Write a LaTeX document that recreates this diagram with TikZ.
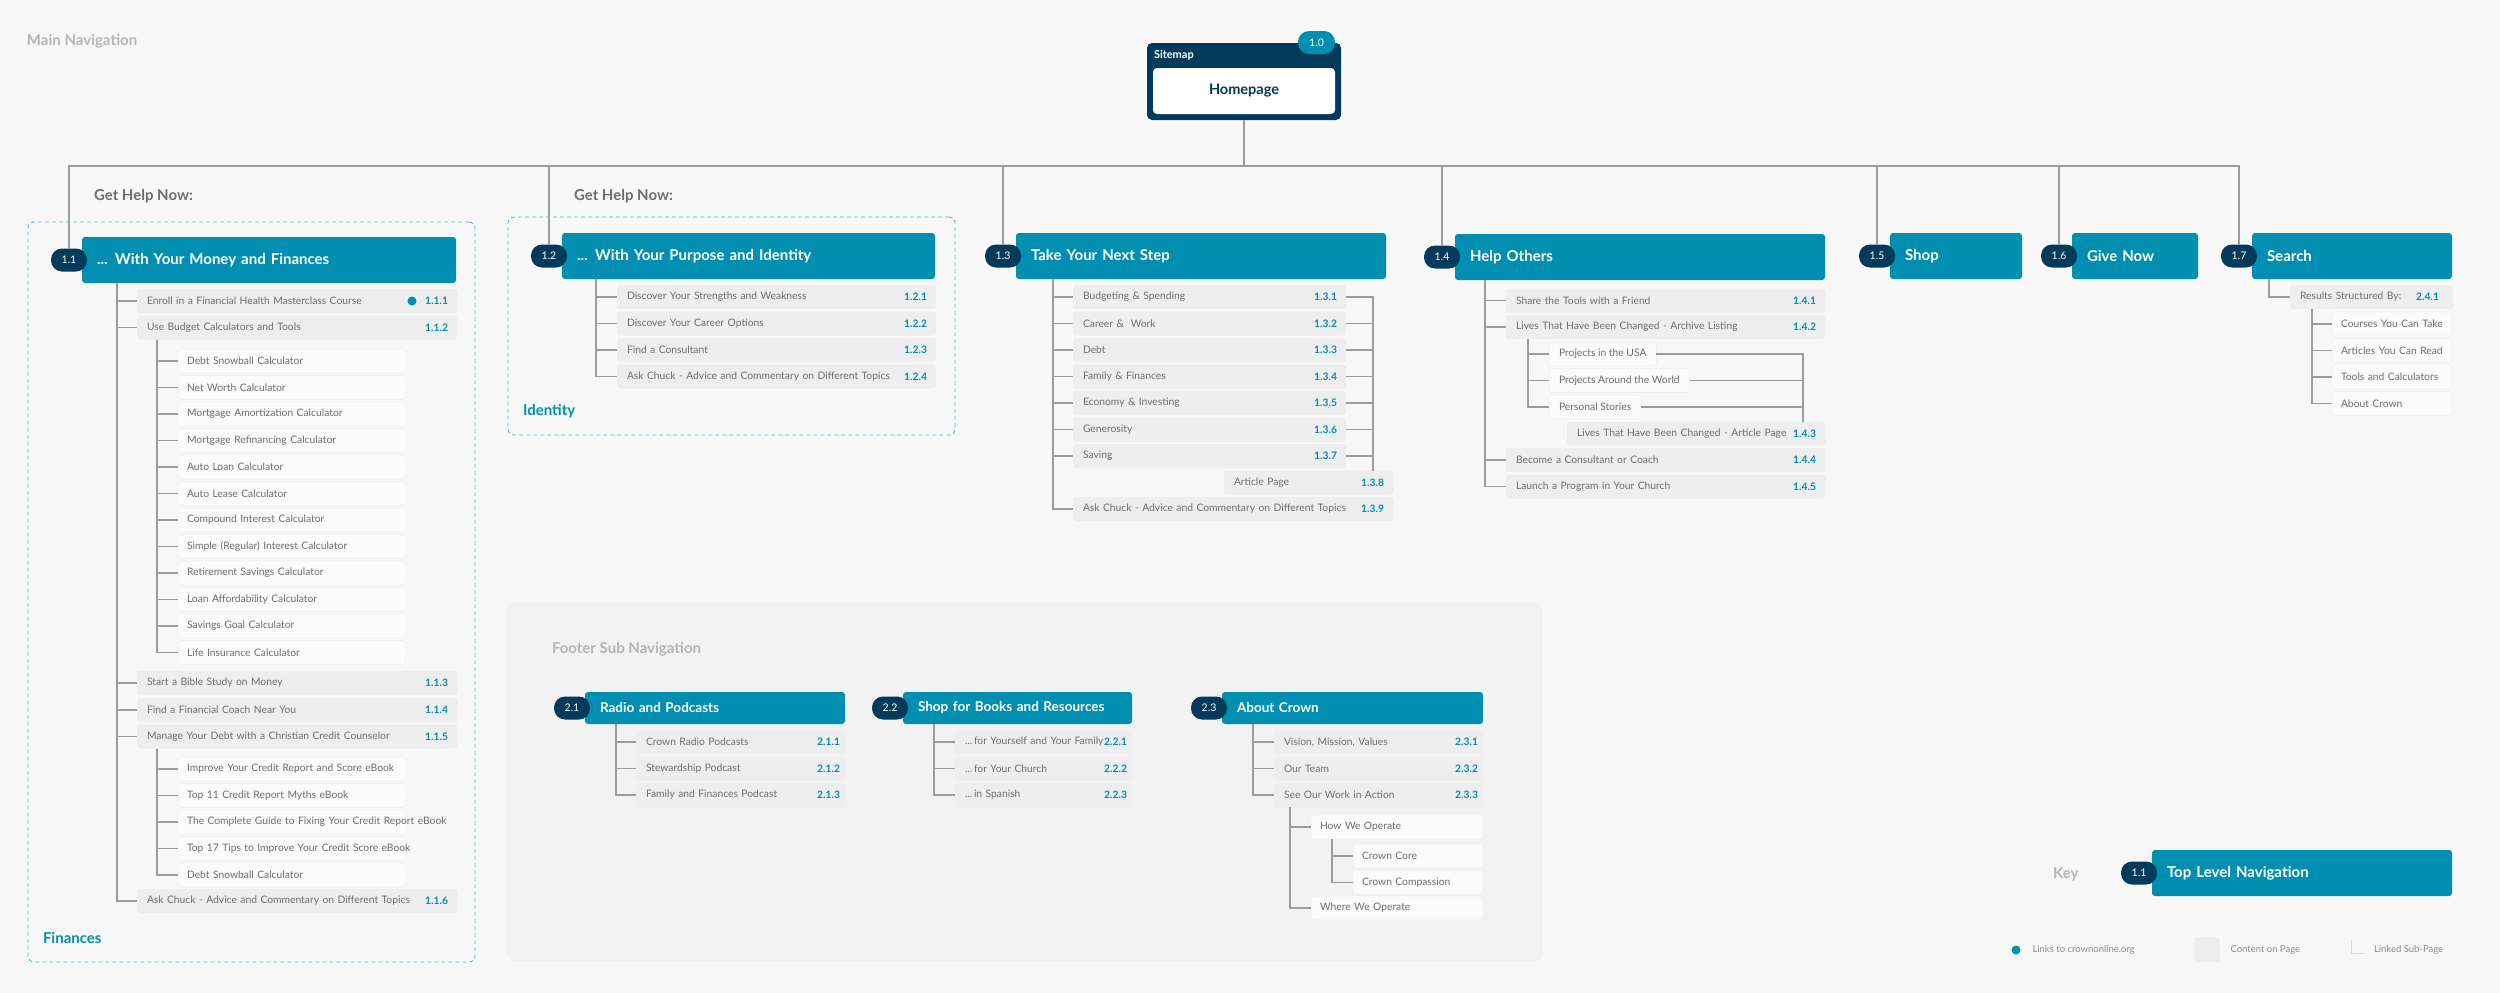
\documentclass[tikz,border=0pt]{standalone}
\usepackage{fontspec}
\setmainfont{Lato}
\usetikzlibrary{positioning}

\definecolor{crteal}{HTML}{008FB1}
\definecolor{crnavy}{HTML}{023A5C}
\definecolor{bgpage}{HTML}{F8F8F8}
\definecolor{panelgray}{HTML}{F2F2F2}
\definecolor{itemgray}{HTML}{EEEEEE}
\definecolor{subfill}{HTML}{FBFBFB}
\definecolor{subline}{HTML}{F0F0F0}
\definecolor{itemtxt}{HTML}{6E6E6E}
\definecolor{linkgray}{HTML}{9C9C9C}
\definecolor{dashblue}{HTML}{5CB9D3}
\definecolor{titlegray}{HTML}{B5B5B5}
\definecolor{helpgray}{HTML}{6E6E6E}
\definecolor{legendtxt}{HTML}{8C8C8C}

\begin{document}
\begin{tikzpicture}[
  x=1pt, y=-1pt,
  every node/.style = {inner sep=0pt, outer sep=0pt},
  oneline/.style = {execute at begin node={\hbox\bgroup},
                    execute at end node={\egroup}},
  hdr/.style     = {rectangle, rounded corners=3pt, fill=crteal, text=white,
                    font=\fontsize{15}{18}\selectfont\bfseries, anchor=west,
                    minimum height=46pt, inner xsep=15pt, text width=#1, oneline},
  fhdr/.style    = {hdr=#1, minimum height=32pt,
                    font=\fontsize{13.5}{16}\selectfont\bfseries},
  badge/.style   = {rectangle, rounded corners=11pt, fill=crnavy, text=white,
                    font=\fontsize{10.5}{12}\selectfont,
                    minimum width=36pt, minimum height=23pt},
  item/.style    = {rectangle, rounded corners=3pt, fill=itemgray, text=itemtxt,
                    font=\fontsize{10.3}{12}\selectfont, anchor=west,
                    minimum height=24pt, inner xsep=10pt, text width=#1, oneline},
  subitem/.style = {item=#1, fill=subfill, draw=subline, line width=0.6pt,
                    inner xsep=9pt},
  subfit/.style  = {rectangle, rounded corners=3pt, fill=subfill, draw=subline,
                    line width=0.6pt, text=itemtxt, font=\fontsize{10.3}{12}\selectfont,
                    anchor=west, minimum height=24pt, inner xsep=10pt},
  num/.style     = {anchor=east, xshift=-9pt, text=crteal,
                    font=\fontsize{10.3}{12}\selectfont\bfseries},
  link/.style    = {draw=linkgray, line width=1.3pt},
  grp/.style     = {draw=dashblue, dash pattern=on 4pt off 3pt, line width=0.9pt,
                    rounded corners=6pt, anchor=north west},
  title/.style   = {anchor=west, text=titlegray,
                    font=\fontsize{15}{18}\selectfont\bfseries},
  help/.style    = {anchor=west, text=helpgray,
                    font=\fontsize{15}{18}\selectfont\bfseries},
  grplabel/.style = {anchor=west, text=crteal,
                    font=\fontsize{15}{18}\selectfont\bfseries},
  legend/.style  = {anchor=west, text=legendtxt, font=\fontsize{9.5}{11}\selectfont},
]
\useasboundingbox[fill=bgpage] (0,0) rectangle (2500,993);

%% -- Homepage --------------------------------------------------------------
\node[title] (mainnav) at (27,41) {Main Navigation};
\node[rectangle, rounded corners=5pt, fill=crnavy,
      minimum width=194pt, minimum height=77pt] (home) at (1244,81.5) {};
\node[rectangle, rounded corners=4pt, fill=white, text=crnavy,
      minimum width=182pt, minimum height=46pt,
      font=\fontsize{14.5}{17}\selectfont\bfseries] (homepage) at (1244,91) {Homepage};
\node[anchor=west, text=white, font=\fontsize{11}{13}\selectfont\bfseries]
  (sitemap) at (1154,55) {Sitemap};
\node[badge, fill=crteal, minimum width=37pt] (b10) at (1316.5,42.5) {1.0};

%% -- 1.1 Money and Finances -----------------------------------------------
\node[help] (help11) at (94,196) {Get Help Now:};
\node[grp, minimum width=447pt, minimum height=740pt] (fin) at (28,222) {};
\node[hdr=344pt] (h11) at (82,260) {... With Your Money and Finances};
\node[badge] (b11) at ([xshift=-13pt]h11.west) {1.1};

\node[item=300pt, label={[num]east:1.1.1}] (i111) at (137,301)
  {Enroll in a Financial Health Masterclass Course};
\node[circle, fill=crteal, minimum size=9pt] (dot111) at ([xshift=-45pt]i111.east) {};
\node[item=300pt, label={[num]east:1.1.2}] (i112) at (137,327.5)
  {Use Budget Calculators and Tools};
\foreach \t [count=\k] in {Debt Snowball Calculator, Net Worth Calculator,
    Mortgage Amortization Calculator, Mortgage Refinancing Calculator,
    Auto Loan Calculator, Auto Lease Calculator, Compound Interest Calculator,
    Simple (Regular) Interest Calculator, Retirement Savings Calculator,
    Loan Affordability Calculator, Savings Goal Calculator,
    Life Insurance Calculator}
  \node[subitem=210pt] (c\k) at (178,{361+(\k-1)*26.5}) {\t};
\node[item=300pt, label={[num]east:1.1.3}] (i113) at (137,683)
  {Start a Bible Study on Money};
\node[item=300pt, label={[num]east:1.1.4}] (i114) at (137,710)
  {Find a Financial Coach Near You};
\node[item=300pt, label={[num]east:1.1.5}] (i115) at (137,736.5)
  {Manage Your Debt with a Christian Credit Counselor};
\foreach \t [count=\k] in {Improve Your Credit Report and Score eBook,
    Top 11 Credit Report Myths eBook,
    The Complete Guide to Fixing Your Credit Report eBook,
    Top 17 Tips to Improve Your Credit Score eBook,
    Debt Snowball Calculator}
  \node[subitem=210pt] (e\k) at (178,{769+(\k-1)*26.5}) {\t};
\node[item=300pt, label={[num]east:1.1.6}] (i116) at (137,901)
  {Ask Chuck - Advice and Commentary on Different Topics};
\node[grplabel] (finlbl) at (43,938) {Finances};

\foreach \n in {i111,i112,i113,i114,i115,i116}
  \draw[link] (h11.south west) ++(35,0) |- (\n.west);
\foreach \k in {1,...,12}
  \draw[link] (i112.south west) ++(20,0) |- (c\k.west);
\foreach \k in {1,...,5}
  \draw[link] (i115.south west) ++(20,0) |- (e\k.west);

%% -- 1.2 Purpose and Identity ---------------------------------------------
\node[help] (help12) at (574,196) {Get Help Now:};
\node[grp, minimum width=447pt, minimum height=218pt] (idt) at (508,217) {};
\node[hdr=343pt] (h12) at (562,256) {... With Your Purpose and Identity};
\node[badge] (b12) at ([xshift=-13pt]h12.west) {1.2};
\node[item=299pt, label={[num]east:1.2.1}] (i121) at (617,297)
  {Discover Your Strengths and Weakness};
\node[item=299pt, label={[num]east:1.2.2}] (i122) at (617,323.5)
  {Discover Your Career Options};
\node[item=299pt, label={[num]east:1.2.3}] (i123) at (617,350)
  {Find a Consultant};
\node[item=299pt, label={[num]east:1.2.4}] (i124) at (617,376.5)
  {Ask Chuck - Advice and Commentary on Different Topics};
\node[grplabel] (idtlbl) at (523,411) {Identity};

\foreach \n in {i121,i122,i123,i124}
  \draw[link] (h12.south west) ++(34,0) |- (\n.west);

%% -- 1.3 Take Your Next Step ----------------------------------------------
\node[hdr=340pt] (h13) at (1016,256) {Take Your Next Step};
\node[badge] (b13) at ([xshift=-13pt]h13.west) {1.3};
\foreach \t/\c [count=\k] in {Budgeting \& Spending/1.3.1, Career \&\ \ Work/1.3.2,
    Debt/1.3.3, Family \& Finances/1.3.4, Economy \& Investing/1.3.5,
    Generosity/1.3.6, Saving/1.3.7}
  \node[item=253pt, label={[num]east:\c}] (i13\k) at (1073,{297+(\k-1)*26.5}) {\t};
\node[item=149pt, label={[num]east:1.3.8}] (a138) at (1224,482.5) {Article Page};
\node[item=300pt, label={[num]east:1.3.9}] (i139) at (1073,509)
  {Ask Chuck - Advice and Commentary on Different Topics};

\foreach \n in {i131,i132,i133,i134,i135,i136,i137,i139}
  \draw[link] (h13.south west) ++(37,0) |- (\n.west);
\foreach \n in {i131,i132,i133,i134,i135,i136,i137}
  \draw[link] (\n.east) -| ([xshift=-20pt]a138.north east);

%% -- 1.4 Help Others ------------------------------------------------------
\node[hdr=340pt] (h14) at (1455,257) {Help Others};
\node[badge] (b14) at ([xshift=-13pt]h14.west) {1.4};
\node[item=299pt, label={[num]east:1.4.1}] (i141) at (1506,300.5)
  {Share the Tools with a Friend};
\node[item=299pt, label={[num]east:1.4.2}] (i142) at (1506,327)
  {Lives That Have Been Changed - Archive Listing};
\node[subfit] (s141) at (1549,354) {Projects in the USA};
\node[subfit] (s142) at (1549,380.5) {Projects Around the World};
\node[subfit] (s143) at (1549,407) {Personal Stories};
\node[item=238pt, label={[num]east:1.4.3}] (i143) at (1567,433.5)
  {Lives That Have Been Changed - Article Page};
\node[item=299pt, label={[num]east:1.4.4}] (i144) at (1506,460)
  {Become a Consultant or Coach};
\node[item=299pt, label={[num]east:1.4.5}] (i145) at (1506,486.5)
  {Launch a Program in Your Church};

\foreach \n in {i141,i142,i144,i145}
  \draw[link] (h14.south west) ++(30,0) |- (\n.west);
\foreach \n in {s141,s142,s143}
  \draw[link] (i142.south west) ++(22,0) |- (\n.west);
\foreach \n in {s141,s142,s143}
  \draw[link] (\n.east) -| ([xshift=-22pt]i143.north east);

%% -- 1.5 to 1.7 -----------------------------------------------------------
\node[hdr=102pt] (h15) at (1890,256) {Shop};
\node[badge] (b15) at ([xshift=-13pt]h15.west) {1.5};
\node[hdr=96pt] (h16) at (2072,256) {Give Now};
\node[badge] (b16) at ([xshift=-13pt]h16.west) {1.6};
\node[hdr=170pt] (h17) at (2252,256) {Search};
\node[badge] (b17) at ([xshift=-13pt]h17.west) {1.7};
\node[item=143pt, label={[num, xshift=-5pt]east:2.4.1}] (r171) at (2290,297)
  {Results Structured By:};
\foreach \t [count=\k] in {Courses You Can Take, Articles You Can Read,
    Tools and Calculators, About Crown}
  \node[subitem=102pt] (q\k) at (2332,{324+(\k-1)*26.5}) {\t};

\draw[link] (h17.south west) ++(17,0) |- (r171.west);
\foreach \k in {1,...,4}
  \draw[link] (r171.south west) ++(22,0) |- (q\k.west);

%% -- main tree ------------------------------------------------------------
\foreach \b in {b11,b12,b13,b14,b15,b16,b17}
  \draw[link] (home.south) -- ++(0,46) -| (\b.north);

%% -- Footer sub navigation ------------------------------------------------
\node[rectangle, rounded corners=8pt, fill=panelgray, anchor=north west,
      minimum width=1036pt, minimum height=358pt] (footer) at (507,603) {};
\node[title] (footnav) at (552,649) {Footer Sub Navigation};

\node[fhdr=230pt] (h21) at (585,708) {Radio and Podcasts};
\node[badge] (b21) at ([xshift=-13pt]h21.west) {2.1};
\node[item=189pt, label={[num, xshift=4pt]east:2.1.1}] (i211) at (636,742)
  {Crown Radio Podcasts};
\node[item=189pt, label={[num, xshift=4pt]east:2.1.2}] (i212) at (636,768.5)
  {Stewardship Podcast};
\node[item=189pt, label={[num, xshift=4pt]east:2.1.3}] (i213) at (636,795)
  {Family and Finances Podcast};

\node[fhdr=199pt] (h22) at (903,708) {Shop for Books and Resources};
\node[badge] (b22) at ([xshift=-13pt]h22.west) {2.2};
\node[item=157pt, label={[num, xshift=4pt]east:2.2.1}] (i221) at (955,742)
  {...\,for Yourself and Your Family};
\node[item=157pt, label={[num, xshift=4pt]east:2.2.2}] (i222) at (955,768.5)
  {...\,for Your Church};
\node[item=157pt, label={[num, xshift=4pt]east:2.2.3}] (i223) at (955,795)
  {...\,in Spanish};

\node[fhdr=231pt] (h23) at (1222,708) {About Crown};
\node[badge] (b23) at ([xshift=-13pt]h23.west) {2.3};
\node[item=189pt, label={[num, xshift=4pt]east:2.3.1}] (i231) at (1274,742)
  {Vision, Mission, Values};
\node[item=189pt, label={[num, xshift=4pt]east:2.3.2}] (i232) at (1274,768.5)
  {Our Team};
\node[item=189pt, label={[num, xshift=4pt]east:2.3.3}] (i233) at (1274,795)
  {See Our Work in Action};
\node[subitem=154pt] (w231) at (1311,827) {How We Operate};
\node[subitem=112pt] (w232) at (1353,856) {Crown Core};
\node[subitem=112pt] (w233) at (1353,882.5) {Crown Compassion};
\node[subitem=154pt] (w234) at (1311,908) {Where We Operate};

\foreach \n in {i211,i212,i213}
  \draw[link] (h21.south west) ++(31,0) |- (\n.west);
\foreach \n in {i221,i222,i223}
  \draw[link] (h22.south west) ++(31,0) |- (\n.west);
\foreach \n in {i231,i232,i233}
  \draw[link] (h23.south west) ++(31,0) |- (\n.west);
\foreach \n in {w231,w234}
  \draw[link] (i233.south west) ++(16,0) |- (\n.west);
\foreach \n in {w232,w233}
  \draw[link] (w231.south west) ++(21,0) |- (\n.west);

%% -- Key ------------------------------------------------------------------
\node[title] (keylbl) at (2053,874) {Key};
\node[hdr=270pt] (hkey) at (2152,873) {Top Level Navigation};
\node[badge] (bkey) at ([xshift=-13pt]hkey.west) {1.1};
\node[circle, fill=crteal, minimum size=9pt] (keydot) at (2016,950) {};
\node[legend, right=12pt of keydot] (keydottxt) {Links to crownonline.org};
\node[rectangle, rounded corners=3pt, fill=itemgray, minimum size=25pt]
  (keybox) at (2207,949.5) {};
\node[legend, right=11pt of keybox] (keyboxtxt) {Content on Page};
\coordinate (keyl) at (2351,940);
\draw[draw=black!15, line width=1pt] (keyl) |- ++(13,13);
\node[legend] (keyltxt) at (2374,950) {Linked Sub-Page};

\end{tikzpicture}
\end{document}
